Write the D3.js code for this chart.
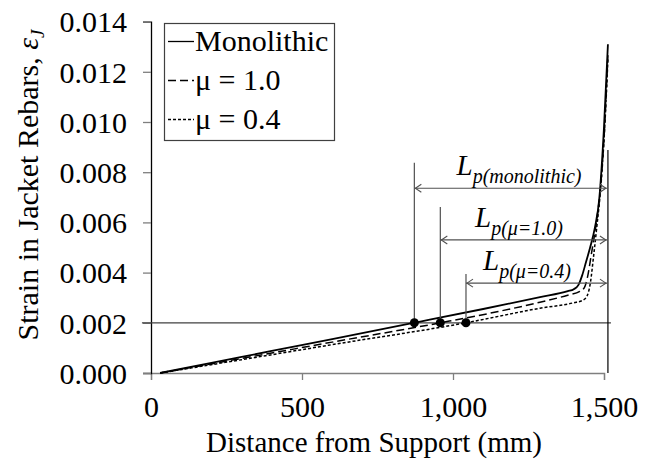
<!DOCTYPE html>
<html>
<head>
<meta charset="utf-8">
<script src="https://cdn.jsdelivr.net/npm/d3@7"></script>
<style>
  html, body { margin: 0; padding: 0; background: #fff; }
</style>
</head>
<body>
<div id="chart"></div>
<script>
// Strain along the jacket rebars (distance from support in mm)
const distMono   = [30, 200, 400, 600, 872, 1100, 1288, 1380, 1400, 1415, 1428, 1440, 1454, 1470, 1484, 1500, 1513];
const strainMono = [0, 0.0004, 0.00088, 0.00135, 0.002, 0.00255, 0.00302, 0.00326, 0.00334, 0.0035, 0.0039, 0.0044, 0.005, 0.0058, 0.0069, 0.0098, 0.0131];

const distMu10   = [30, 300, 600, 958, 1150, 1288, 1380, 1420, 1435, 1445, 1459, 1476, 1490, 1502, 1513];
const strainMu10 = [0, 0.00058, 0.00123, 0.002, 0.00245, 0.00282, 0.0031, 0.00325, 0.0034, 0.0038, 0.0048, 0.0061, 0.0076, 0.0098, 0.0127];

const distMu04   = [30, 300, 600, 1043, 1288, 1400, 1430, 1445, 1455, 1465, 1476, 1490, 1502, 1513];
const strainMu04 = [0, 0.00053, 0.00113, 0.002, 0.00258, 0.0028, 0.0029, 0.0031, 0.0036, 0.0046, 0.0058, 0.0075, 0.0097, 0.0125];

const seriesNames = ["Monolithic", "\u03bc = 1.0", "\u03bc = 0.4"];
const xTicks = [0, 500, 1000, 1500];
const yTicks = [0, 0.002, 0.004, 0.006, 0.008, 0.010, 0.012, 0.014];

// Plastic hinge length markers: start distance where strain reaches yield (0.002)
const yieldStrain = 0.002;
const hingeStart = [872, 958, 1043];
const hingeEnd = 1513;
const hingeArrowStrain = [0.00736, 0.0053, 0.00358];
const hingeTopStrain = [0.00838, 0.00661, 0.00394];
const hingeEndTopStrain = 0.00888;
const hingeSub = ["p(monolithic)", "p(\u03bc=1.0)", "p(\u03bc=0.4)"];

const W = 657, H = 469;
const FONT = "Liberation Serif";
const svg = d3.select("#chart").append("svg").attr("width", W).attr("height", H)
  .attr("font-family", FONT);

const x = d3.scaleLinear().domain([0, 1500]).range([151, 604]);
const y = d3.scaleLinear().domain([0, 0.014]).range([373, 21.6]);

const axisGray = "#7f7f7f";

// Axes
const gx = svg.append("g").attr("transform", `translate(0,${y(0)})`)
  .call(d3.axisBottom(x).tickValues(xTicks).tickFormat(d3.format(",")).tickSize(7).tickPadding(16))
  .attr("font-family", FONT).attr("font-size", 30);
gx.select(".domain").attr("stroke", axisGray).attr("stroke-width", 1.3);
gx.selectAll(".tick line").attr("stroke", axisGray).attr("stroke-width", 1.3);
gx.selectAll(".tick text").attr("fill", "#000");

const gy = svg.append("g").attr("transform", `translate(${x(0)},0)`)
  .call(d3.axisLeft(y).tickValues(yTicks).tickFormat(d3.format(".3f")).tickSize(8).tickPadding(16))
  .attr("font-family", FONT).attr("font-size", 30);
gy.select(".domain").attr("stroke", "#000").attr("stroke-width", 1.3);
gy.selectAll(".tick line").attr("stroke", axisGray).attr("stroke-width", 1.3);
gy.selectAll(".tick text").attr("fill", "#000").attr("dy", "0.34em");

// Yield strain reference line
svg.append("line")
  .attr("x1", x(-30)).attr("x2", x(1523))
  .attr("y1", y(yieldStrain)).attr("y2", y(yieldStrain))
  .attr("stroke", "#404040").attr("stroke-width", 1.3);

// Curves
const line = d3.line().x(d => x(d[0])).y(d => y(d[1])).curve(d3.curveMonotoneX);
const series = [
  { d: distMono, s: strainMono, dash: null, w: 1.8 },
  { d: distMu10, s: strainMu10, dash: "8,4", w: 1.5 },
  { d: distMu04, s: strainMu04, dash: "3,2", w: 1.5 }
];
series.forEach(sr => {
  svg.append("path")
    .datum(d3.zip(sr.d, sr.s))
    .attr("d", line)
    .attr("fill", "none")
    .attr("stroke", "#000")
    .attr("stroke-width", sr.w)
    .attr("stroke-dasharray", sr.dash);
});

// Hinge length annotations
const annGray = "#505050";
svg.append("line")
  .attr("x1", x(hingeEnd)).attr("x2", x(hingeEnd))
  .attr("y1", y(hingeEndTopStrain)).attr("y2", y(0))
  .attr("stroke", "#000").attr("stroke-width", 1.2);

hingeStart.forEach((d0, i) => {
  svg.append("line")
    .attr("x1", x(d0)).attr("x2", x(d0))
    .attr("y1", y(hingeTopStrain[i])).attr("y2", y(yieldStrain))
    .attr("stroke", annGray).attr("stroke-width", 1.2);
  const ya = y(hingeArrowStrain[i]);
  const xa = x(d0), xb = x(hingeEnd) - 1;
  svg.append("line").attr("x1", xa).attr("x2", xb).attr("y1", ya).attr("y2", ya)
    .attr("stroke", annGray).attr("stroke-width", 1.2);
  // open arrow heads
  svg.append("path").attr("d", `M${xa + 7},${ya - 4}L${xa + 1},${ya}L${xa + 7},${ya + 4}`)
    .attr("fill", "none").attr("stroke", annGray).attr("stroke-width", 1.1);
  svg.append("path").attr("d", `M${xb - 7},${ya - 4}L${xb - 1},${ya}L${xb - 7},${ya + 4}`)
    .attr("fill", "none").attr("stroke", annGray).attr("stroke-width", 1.1);
  // label L_p(...)
  const labelX = [456.5, 475, 483][i];
  const t = svg.append("text")
    .attr("x", labelX).attr("y", ya - 13)
    .attr("font-style", "italic").attr("fill", "#000");
  t.append("tspan").attr("font-size", 29).text("L");
  t.append("tspan").attr("font-size", 20).attr("dy", 8).text(hingeSub[i]);
});

// Yield points
svg.selectAll("circle.yield").data(hingeStart).enter().append("circle")
  .attr("class", "yield")
  .attr("cx", d => x(d)).attr("cy", y(yieldStrain)).attr("r", 4.5)
  .attr("fill", "#000");

// Legend
const lg = svg.append("g");
lg.append("rect").attr("x", 164.5).attr("y", 23.5).attr("width", 170).attr("height", 117)
  .attr("fill", "#fff").attr("stroke", "#404040").attr("stroke-width", 1.2);
const legY = [51, 90, 129];
const legDash = [null, "8,4", "3,2"];
seriesNames.forEach((name, i) => {
  lg.append("line").attr("x1", 168).attr("x2", 194)
    .attr("y1", legY[i] - 9.5).attr("y2", legY[i] - 9.5)
    .attr("stroke", "#000").attr("stroke-width", 1.3).attr("stroke-dasharray", legDash[i]);
  lg.append("text").attr("x", 195).attr("y", legY[i])
    .attr("font-size", 30).attr("fill", "#000").text(name);
});

// Axis titles
svg.append("text")
  .attr("x", 374).attr("y", 452)
  .attr("text-anchor", "middle").attr("font-size", 29).attr("fill", "#000")
  .text("Distance from Support (mm)");

const yt = svg.append("text")
  .attr("transform", "translate(38,185) rotate(-90)")
  .attr("text-anchor", "middle").attr("font-size", 30).attr("fill", "#000");
yt.append("tspan").text("Strain in Jacket Rebars, ");
yt.append("tspan").attr("font-style", "italic").text("\u03b5");
yt.append("tspan").attr("font-style", "italic").attr("font-size", 19).attr("dy", 6).text("J");
</script>
</body>
</html>
